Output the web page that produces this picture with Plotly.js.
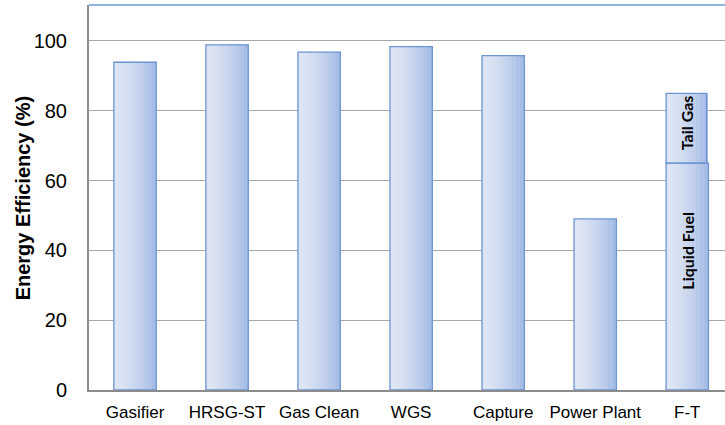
<!DOCTYPE html>
<html>
<head>
<meta charset="utf-8">
<script src="https://cdn.plot.ly/plotly-3.0.1.min.js"></script>
<style>html,body{margin:0;padding:0;overflow:hidden;background:#fff;}</style>
</head>
<body>
<div id="chart" style="width:725px;height:425px;"></div>
<script>
// Data
var categories = ["Gasifier", "HRSG-ST", "Gas Clean", "WGS", "Capture", "Power Plant", "F-T"];
var efficiency = [93.9, 98.9, 96.8, 98.4, 95.8, 49.0, 65.0];   // F-T = liquid fuel part
var tailGas    = [null, null, null, null, null, null, 20.0];    // F-T tail gas on top
var yTicks = [0, 20, 40, 60, 80, 100];

// Styling for simulated horizontal gradient
var barW = 0.46;
var nSlices = 10;
var leftCol = [222, 229, 243];
var rightCol = [166, 189, 230];
function lerpCol(t) {
  var c = leftCol.map(function (v, i) { return Math.round(v + (rightCol[i] - v) * t); });
  return "rgb(" + c.join(",") + ")";
}
var tailBase = efficiency.map(function (v, i) { return tailGas[i] == null ? null : v; });

var traces = [];
for (var k = 0; k < nSlices; k++) {
  var t = k / (nSlices - 1);
  var off = -barW / 2 + k * barW / nSlices;
  var w = barW - k * barW / nSlices;
  var col = lerpCol(Math.pow(t, 1.5));
  traces.push({
    type: "bar", x: categories, y: efficiency, width: w, offset: off,
    marker: { color: col, line: { width: 0 } },
    hoverinfo: "skip", showlegend: false
  });
  traces.push({
    type: "bar", x: categories, y: tailGas, base: tailBase, width: w - 0.01, offset: off,
    marker: { color: col, line: { width: 0 } },
    hoverinfo: "skip", showlegend: false
  });
}
// outlines
traces.push({
  type: "bar", x: categories, y: efficiency, width: barW, offset: -barW / 2,
  marker: { color: "rgba(0,0,0,0)", line: { color: "#6b94d3", width: 1.3 } },
  showlegend: false
});
traces.push({
  type: "bar", x: categories, y: tailGas, base: tailBase, width: barW - 0.02, offset: -barW / 2,
  marker: { color: "rgba(0,0,0,0)", line: { color: "#6b94d3", width: 1.3 } },
  showlegend: false
});

var layout = {
  width: 725, height: 425,
  margin: { l: 89, r: 0, t: 5, b: 35 },
  paper_bgcolor: "#ffffff", plot_bgcolor: "#ffffff",
  barmode: "overlay",
  font: { family: "Liberation Sans, Arial, sans-serif", color: "#000" },
  xaxis: {
    type: "category", range: [-0.5, 6.41],
    showgrid: false, zeroline: false,
    showline: true, linecolor: "#8c8c8c", linewidth: 2,
    ticks: "", tickfont: { size: 17, color: "#000" }, ticklabelstandoff: 6
  },
  yaxis: {
    range: [0, 110.3], tickvals: yTicks, ticktext: yTicks.map(String),
    showgrid: true, gridcolor: "#a6a6a6", gridwidth: 1,
    zeroline: false, showline: true, linecolor: "#8c8c8c", linewidth: 2,
    ticks: "", tickfont: { size: 20, color: "#000" }, ticklabelstandoff: 16
  },
  shapes: [{
    type: "line", xref: "paper", yref: "paper", x0: 0, x1: 1, y0: 1, y1: 1,
    line: { color: "#8eb4e3", width: 2 }
  }],
  annotations: [
    { x: -0.104, y: 0.5, xref: "paper", yref: "paper", xanchor: "center", yanchor: "middle",
      text: "<b>Energy Efficiency (%)</b>", textangle: -90, showarrow: false,
      font: { size: 20, color: "#000" } },
    { x: "F-T", y: 76.5, xref: "x", yref: "y", text: "<b>Tail Gas</b>", textangle: -90,
      showarrow: false, font: { family: "Lato, sans-serif", size: 16, color: "#000" } },
    { x: "F-T", y: 40, xref: "x", yref: "y", text: "<b>Liquid Fuel</b>", textangle: -90,
      showarrow: false, font: { family: "Lato, sans-serif", size: 16, color: "#000" } }
  ]
};

Plotly.newPlot("chart", traces, layout, { displayModeBar: false, staticPlot: true });
</script>
</body>
</html>
